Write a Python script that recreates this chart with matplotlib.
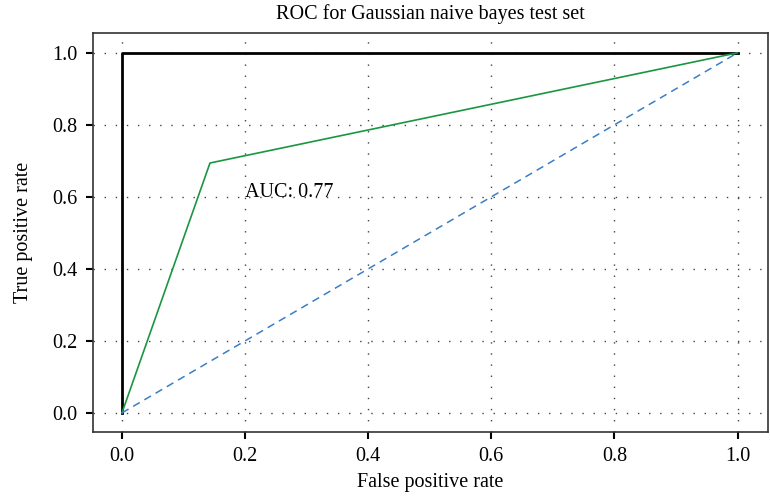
import matplotlib
matplotlib.use("Agg")
import matplotlib.pyplot as plt

plt.rcParams['font.family'] = ['Liberation Serif', 'DejaVu Serif']

# ROC data
fpr = [0.0, 0.143, 1.0]
tpr = [0.0, 0.694, 1.0]
perfect_x = [0.0, 0.0, 1.0]
perfect_y = [0.0, 1.0, 1.0]
chance = [0.0, 1.0]
auc = 0.77

fig = plt.figure(figsize=(7.7, 4.98), dpi=100)
ax = fig.add_axes([0.1208, 0.1325, 0.8762, 0.8012])

ax.plot(perfect_x, perfect_y, color='black', linewidth=2)
ax.plot(fpr, tpr, color='#1a9641', linewidth=1.2)
ax.plot(chance, chance, color='#3a7fc4', linewidth=1.1, linestyle='--', dashes=(5, 3.5))

ax.text(0.2, 0.6, "AUC: {:.2f}".format(auc), fontsize=14.5)

ax.set_xlim(-0.047, 1.049)
ax.set_ylim(-0.053, 1.055)
ax.set_xticks([0.0, 0.2, 0.4, 0.6, 0.8, 1.0])
ax.set_yticks([0.0, 0.2, 0.4, 0.6, 0.8, 1.0])
ax.tick_params(labelsize=14.5, direction='out', length=5, width=1.5, pad=6)
ax.grid(True, color='#444444', linestyle=(0, (1, 7)), linewidth=1.0)

for s in ax.spines.values():
    s.set_color('#333333')
    s.set_linewidth(1.2)

ax.set_title("ROC for Gaussian naive bayes test set", fontsize=14.5, pad=10)
ax.set_xlabel("False positive rate", fontsize=14.5, labelpad=5)
ax.set_ylabel("True positive rate", fontsize=14.5, labelpad=14)

plt.savefig("out.png", dpi=100)
plt.close()
